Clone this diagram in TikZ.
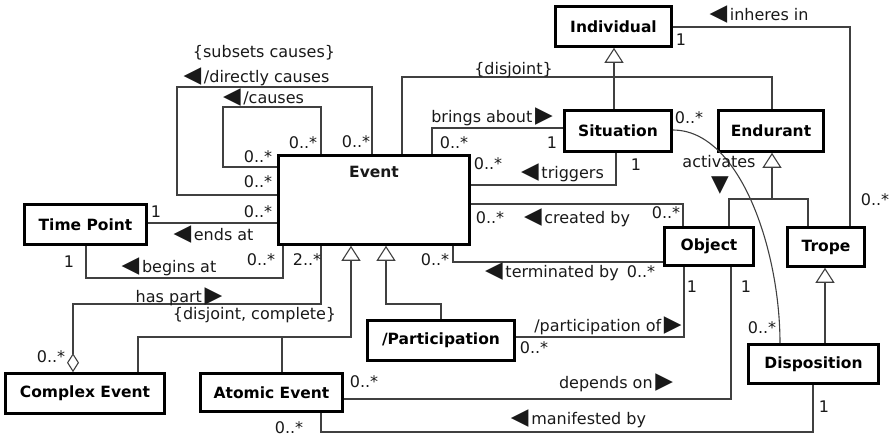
\documentclass[tikz,border=0pt]{standalone}
\usepackage{fontspec}
\setmainfont{DejaVu Sans}
\usetikzlibrary{arrows.meta}

\newcommand\lefttri{{\fontsize{23}{23}\selectfont ◀}}
\newcommand\righttri{{\fontsize{23}{23}\selectfont ▶}}
\newcommand\downtri{{\fontsize{23}{23}\selectfont ▼}}

\begin{document}
\begin{tikzpicture}[x=1pt, y=-1pt,
    cls/.style={draw=black, line width=2.6pt, fill=white, inner sep=0pt, font=\fontsize{15.5}{18}\selectfont\bfseries},
    assoc/.style={draw=black!75, line width=1.1pt},
    gen/.style={assoc, -{Triangle[open, width=19pt, length=15pt, line width=1.1pt, fill=white]}},
    lbl/.style={font=\fontsize{16}{18}\selectfont, inner sep=0pt, text=black!90}]
    \useasboundingbox (0,0) rectangle (892,440);

    % Classes
    \node[cls, minimum width=116pt, minimum height=40pt] (individual) at (613.5,26.5) {Individual};
    \node[cls, minimum width=107pt, minimum height=41pt] (situation) at (618,131) {Situation};
    \node[cls, minimum width=105pt, minimum height=41pt] (endurant) at (771,131) {Endurant};
    \node[cls, minimum width=191pt, minimum height=89pt] (event) at (374,200) {};
    \node[lbl, font=\fontsize{15.5}{18}\selectfont\bfseries] (eventname) at (374,172) {Event};
    \node[cls, minimum width=122pt, minimum height=40pt] (timepoint) at (85.5,224.5) {Time Point};
    \node[cls, minimum width=89pt, minimum height=38pt] (object) at (709,246.5) {Object};
    \node[cls, minimum width=77pt, minimum height=39pt] (trope) at (826,247) {Trope};
    \node[cls, minimum width=147pt, minimum height=40pt] (participation) at (441,340.5) {/Participation};
    \node[cls, minimum width=130pt, minimum height=39pt] (disposition) at (813.5,364) {Disposition};
    \node[cls, minimum width=159pt, minimum height=40pt] (complex) at (85,393.5) {Complex Event};
    \node[cls, minimum width=142pt, minimum height=38pt] (atomic) at (271.5,392.5) {Atomic Event};

    % Causation loops on Event
    \draw[assoc] (event.west |- 0,167) -- (223,167) -- (223,107) -- (321,107) -- (event.north -| 321,0);
    \draw[assoc] (event.west |- 0,195) -- (177,195) -- (177,87) -- (372,87) -- (event.north -| 372,0);

    % Time points
    \draw[assoc] (timepoint.east |- 0,223) -- (event.west |- 0,223);
    \draw[assoc] (timepoint.south -| 86,0) -- (86,278) -- (283,278) -- (event.south -| 283,0);

    % Parts and subclasses of Event
    \draw[assoc, {Diamond[open, length=19pt, width=12pt, line width=1.1pt, fill=white]}-] (complex.north -| 73,0) -- (73,304) -- (321,304) -- (event.south -| 321,0);
    \draw[gen] (complex.north -| 138,0) -- (138,337) -- (351,337) -- (event.south -| 351,0);
    \draw[assoc] (atomic.north -| 282,0) -- (282,337);
    \draw[gen] (participation.north -| 441,0) -- (441,304) -- (386,304) -- (event.south -| 386,0);

    % Object associations
    \draw[assoc] (event.south -| 453,0) -- (453,262) -- (object.west |- 0,262);
    \draw[assoc] (event.east |- 0,204) -- (683,204) -- (object.north -| 683,0);
    \draw[assoc] (participation.east |- 0,337) -- (684,337) -- (object.south -| 684,0);
    \draw[assoc] (atomic.east |- 0,399) -- (731,399) -- (object.south -| 731,0);
    \draw[assoc] (atomic.south -| 321,0) -- (321,432) -- (813,432) -- (disposition.south -| 813,0);

    % Individual and its subclasses
    \draw[gen] (situation.north -| 614,0) -- (individual.south -| 614,0);
    \draw[assoc] (event.north -| 402,0) -- (402,77) -- (772,77) -- (endurant.north -| 772,0);
    \draw[assoc] (individual.east |- 0,27) -- (850,27) -- (trope.north -| 850,0);
    \draw[assoc] (event.north -| 432,0) -- (432,128) -- (situation.west |- 0,128);
    \draw[assoc] (event.east |- 0,185) -- (616,185) -- (situation.south -| 616,0);
    \draw[gen] (object.north -| 729,0) -- (729,199) -- (772,199) -- (endurant.south -| 772,0);
    \draw[assoc] (trope.north -| 808,0) -- (808,199) -- (772,199);
    \draw[gen] (disposition.north -| 825,0) -- (trope.south -| 825,0);
    \draw[assoc] (situation.east |- 0,130) .. controls (740,130) and (780,250) .. (disposition.north -| 780,0);

    % Association names
    \node[lbl] (subsets) at (264,53) {\{subsets causes\}};
    \node[lbl] (dcauses) at (256.5,77) {\lefttri\,/directly causes};
    \node[lbl] (causes) at (263.5,98) {\lefttri\,/causes};
    \node[lbl] (endsat) at (213.5,235) {\lefttri\,ends at};
    \node[lbl] (beginsat) at (169,267) {\lefttri\,begins at};
    \node[lbl] (haspart) at (179,297) {has part\,\righttri};
    \node[lbl] (disjcomplete) at (254.5,315) {\{disjoint, complete\}};
    \node[lbl] (termby) at (552,272) {\lefttri\,terminated by};
    \node[lbl] (createdby) at (577,218) {\lefttri\,created by};
    \node[lbl] (partof) at (608,326) {/participation of\,\righttri};
    \node[lbl] (dependson) at (616,383) {depends on\,\righttri};
    \node[lbl] (manifested) at (578.5,419) {\lefttri\,manifested by};
    \node[lbl] (disjoint) at (513.5,70) {\{disjoint\}};
    \node[lbl] (inheres) at (759,15) {\lefttri\,inheres in};
    \node[lbl] (bringsabout) at (492,117) {brings about\,\righttri};
    \node[lbl] (triggers) at (562.5,173) {\lefttri\,triggers};
    \node[lbl] (activates) at (719,162) {activates};
    \node[lbl] (activatesdir) at (720,186) {\downtri};

    % Multiplicities
    \foreach \x/\y/\t [count=\i] in {258/157/0..*, 303/143/0..*, 258/182/0..*, 356/142/0..*,
        258/212/0..*, 261/260/0..*, 307/260/2..*, 51/357/0..*, 435/260/0..*, 641/272/0..*,
        490/218/0..*, 666/213/0..*, 534/348/0..*, 364/382/0..*, 289/428/0..*, 454/143/0..*,
        488/164/0..*, 689/118/0..*, 762/328/0..*, 875/200/0..*,
        156/212/1, 69/262/1, 692/287/1, 746/287/1, 824/407/1, 681/40/1, 552/143/1, 636/165/1}
        \node[lbl] (mult\i) at (\x,\y) {\t};
\end{tikzpicture}
\end{document}
